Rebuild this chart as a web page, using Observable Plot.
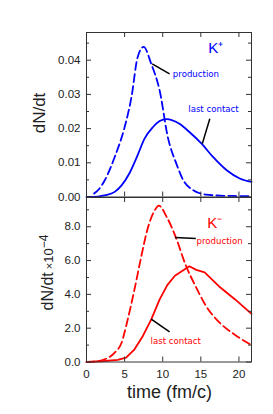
<!DOCTYPE html>
<html>
<head>
<meta charset="utf-8">
<script src="https://cdn.jsdelivr.net/npm/d3@7"></script>
<script src="https://cdn.jsdelivr.net/npm/@observablehq/plot@0.6"></script>
<style>
  html, body { margin: 0; padding: 0; background: white; }
  #wrap { position: relative; width: 273px; height: 414px; overflow: hidden; }
  #wrap svg { position: absolute; left: 0; overflow: visible; }
</style>
</head>
<body>
<div id="wrap"></div>
<script>
// ---- data (time in fm/c) ----
// K+ production (dashed)
const kpProdT = [1.0, 1.6, 2.4, 3.7, 5.0, 5.9, 6.7, 7.5, 8.5, 9.6, 10.7, 11.8, 12.7, 14.0, 15.7, 17.5, 19.3, 21.65];
const kpProdV = [0.001, 0.0022, 0.0049, 0.0117, 0.0204, 0.0292, 0.0408, 0.0439, 0.0389, 0.0311, 0.0172, 0.0097, 0.0049, 0.002, 0.0007, 0.0004, 0.0003, 0.0002];
// K+ last contact (solid)
const kpLastT = [0, 1.5, 2.4, 3.7, 4.6, 5.6, 6.7, 7.6, 8.7, 9.6, 10.5, 12.2, 13.5, 15.1, 16.6, 18.4, 20.1, 21.65];
const kpLastV = [0, 0.0001, 0.0005, 0.0015, 0.0034, 0.0068, 0.0122, 0.0170, 0.0204, 0.0222, 0.0228, 0.0214, 0.019, 0.0156, 0.0117, 0.0078, 0.0054, 0.0044];
// K- production (dashed), x 1e-4
const kmProdT = [0, 1.5, 2.4, 3.7, 4.6, 5.4, 6.3, 7.2, 8.0, 8.9, 9.5, 10.5, 11.7, 13.0, 14.4, 15.7, 17.3, 19.5, 21.65];
const kmProdV = [0, 0.05, 0.16, 0.55, 1.14, 2.5, 4.3, 6.27, 7.85, 8.93, 9.25, 8.6, 7.4, 5.75, 4.4, 3.3, 2.4, 1.6, 1.0];
// K- last contact (solid), x 1e-4
const kmLastT = [0, 2.4, 4.1, 5.2, 6.3, 7.4, 8.5, 9.6, 10.6, 11.6, 13.5, 14.4, 15.5, 17.4, 19.5, 21.65];
const kmLastV = [0, 0.06, 0.12, 0.26, 0.75, 1.54, 2.52, 3.7, 4.55, 5.1, 5.66, 5.45, 5.3, 4.47, 3.7, 2.85];

// ticks
const xTicks = [0, 5, 10, 15, 20];
const yTicksTop = [0, 0.01, 0.02, 0.03, 0.04];
const yMinorTop = [0.005, 0.015, 0.025, 0.035, 0.045];
const yTicksBot = [0, 2, 4, 6, 8];
const yMinorBot = [1, 3, 5, 7, 9];

// annotations
const annTopLabels = ["K⁺", "production", "last contact"];
const annTopX = [15.97, 11.33, 13.35];
const annTopY = [0.0434, 0.036, 0.0258];
const annTopSize = [15, 8.6, 8.6];
const leadTopX1 = [8.62, 16.18], leadTopY1 = [0.0389, 0.02286];
const leadTopX2 = [10.9, 15.2],  leadTopY2 = [0.036, 0.0156];

const annBotLabels = ["K⁻", "production", "last contact"];
const annBotX = [15.84, 14.44, 8.4];
const annBotY = [8.23, 7.12, 1.2];
const annBotSize = [15, 8.6, 8.6];
const leadBotX1 = [11.6, 8.49], leadBotY1 = [7.36, 2.53];
const leadBotX2 = [14.35, 10.9], leadBotY2 = [7.3, 1.78];

// ---- build ----
const zip = (T, V) => T.map((t, i) => ({t, v: V[i]}));
const kpProd = zip(kpProdT, kpProdV), kpLast = zip(kpLastT, kpLastV);
const kmProd = zip(kmProdT, kmProdV), kmLast = zip(kmLastT, kmLastV);
const links = (X1, Y1, X2, Y2) => X1.map((_, i) => ({x1: X1[i], y1: Y1[i], x2: X2[i], y2: Y2[i]}));
const labels = (L, X, Y, S) => L.map((text, i) => ({text, x: X[i], y: Y[i], s: S[i]}));

const W = 273, ML = 86, MR = 22;
const FW = W - ML - MR; // 165
const FH = 164.5;
const xDomain = [0, 21.65];
const BLUE = "#0000ff", RED = "#ff0000", AX = "#333";
const font = "'Liberation Sans', Arial, sans-serif";
const annFont = "'DejaVu Sans', Verdana, sans-serif";

function frameTicks(yMaj, yMin) {
  return [
    Plot.tickY(yMaj, {insetRight: FW - 5, stroke: AX}),
    Plot.tickY(yMaj, {insetLeft: FW - 5, stroke: AX}),
    Plot.tickY(yMin, {insetRight: FW - 3, stroke: AX}),
    Plot.tickY(yMin, {insetLeft: FW - 3, stroke: AX}),
    Plot.tickX(xTicks, {insetBottom: FH - 5, stroke: AX}),
    Plot.tickX(xTicks, {insetTop: FH - 5, stroke: AX}),
    Plot.frame({stroke: AX})
  ];
}

function curveMarks(prod, last, color, ann, lead, solidCurve) {
  return [
    Plot.line(last, {x: "t", y: "v", stroke: color, strokeWidth: 1.8, curve: solidCurve}),
    Plot.line(prod, {x: "t", y: "v", stroke: color, strokeWidth: 1.8, strokeDasharray: "8,4", curve: "monotone-x"}),
    Plot.link(lead, {x1: "x1", y1: "y1", x2: "x2", y2: "y2", stroke: "black", strokeWidth: 1.5}),
    Plot.text(ann.slice(0, 1), {x: "x", y: "y", text: "text", fontSize: "s", textAnchor: "start", fill: color, fontFamily: font}),
    Plot.text(ann.slice(1), {x: "x", y: "y", text: "text", fontSize: "s", textAnchor: "start", fill: color, fontFamily: annFont})
  ];
}

const topPlot = Plot.plot({
  width: W, height: 32 + FH, marginTop: 32, marginBottom: 0, marginLeft: ML, marginRight: MR,
  style: {background: "transparent", overflow: "visible", fontFamily: font, fontSize: "11.5px", color: "#222"},
  x: {domain: xDomain, axis: null},
  y: {domain: [0, 0.0481], ticks: yTicksTop, tickFormat: d3.format(".2f"), tickSize: 0, tickPadding: 6, label: null},
  marks: [
    ...curveMarks(kpProd, kpLast, BLUE, labels(annTopLabels, annTopX, annTopY, annTopSize),
                  links(leadTopX1, leadTopY1, leadTopX2, leadTopY2), "monotone-x"),
    ...frameTicks(yTicksTop, yMinorTop)
  ]
});

const botPlot = Plot.plot({
  width: W, height: FH + 52.5, marginTop: 0, marginBottom: 52.5, marginLeft: ML, marginRight: MR,
  style: {background: "transparent", overflow: "visible", fontFamily: font, fontSize: "11.5px", color: "#222"},
  x: {domain: xDomain, ticks: xTicks, tickFormat: d => String(d), tickSize: 0, tickPadding: 8, label: null},
  y: {domain: [0, 9.73], ticks: yTicksBot, tickFormat: d3.format(".1f"), tickSize: 0, tickPadding: 6, label: null},
  marks: [
    ...curveMarks(kmProd, kmLast, RED, labels(annBotLabels, annBotX, annBotY, annBotSize),
                  links(leadBotX1, leadBotY1, leadBotX2, leadBotY2), "linear"),
    ...frameTicks(yTicksBot, yMinorBot)
  ]
});

const wrap = document.getElementById("wrap");
topPlot.style.top = "0px";
botPlot.style.top = (32 + FH) + "px";
wrap.appendChild(topPlot);
wrap.appendChild(botPlot);

// axis titles
d3.select(topPlot).append("text")
  .attr("transform", "translate(45,113) rotate(-90)")
  .attr("text-anchor", "middle").attr("fill", "#222")
  .style("font-family", font).style("font-size", "17px").text("dN/dt");

const t2 = d3.select(botPlot).append("text")
  .attr("transform", `translate(53,${310 - (32 + FH)}) rotate(-90)`)
  .attr("text-anchor", "start").attr("fill", "#222")
  .style("font-family", font);
t2.append("tspan").style("font-size", "16px").text("dN/dt");
t2.append("tspan").attr("dx", 3).style("font-size", "11px").text("×");
t2.append("tspan").style("font-size", "13px").text("10");
t2.append("tspan").attr("dy", -5).style("font-size", "12px").text("−4");

d3.select(botPlot).append("text")
  .attr("x", 169.5).attr("y", 397 - (32 + FH))
  .attr("text-anchor", "middle").attr("fill", "#222")
  .style("font-family", font).style("font-size", "18px").text("time (fm/c)");
</script>
</body>
</html>
